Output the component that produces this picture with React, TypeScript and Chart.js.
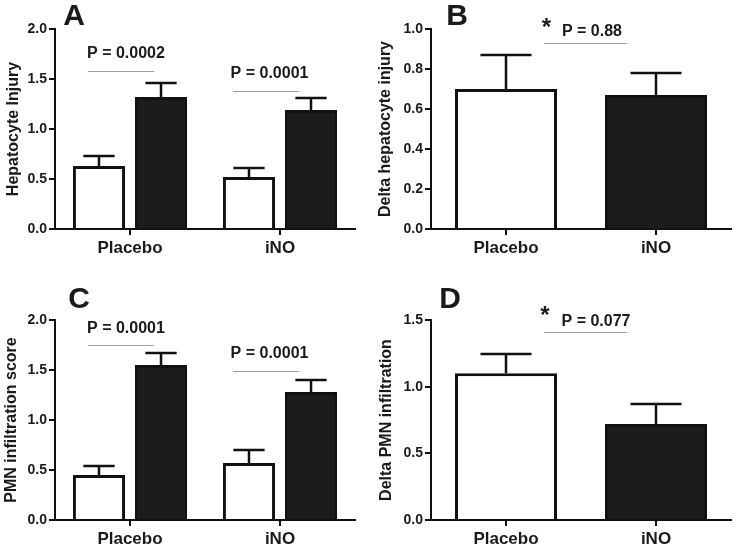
import React, { useEffect, useRef } from 'react';
import { Chart, registerables } from 'chart.js';

Chart.register(...registerables);

// ---------- data ----------
const categories = ['Placebo', 'iNO'];

// Panel A: hepatocyte injury (white = before, black = after)
const injuryWhite = [0.63, 0.52];
const injuryWhiteSem = [0.10, 0.09];
const injuryBlack = [1.32, 1.19];
const injuryBlackSem = [0.14, 0.12];
const injuryTicks = [0, 0.5, 1.0, 1.5, 2.0];

// Panel B: delta hepatocyte injury
const deltaInjury = [0.70, 0.67];
const deltaInjurySem = [0.17, 0.11];
const deltaInjuryTicks = [0, 0.2, 0.4, 0.6, 0.8, 1.0];

// Panel C: PMN infiltration score
const pmnWhite = [0.45, 0.57];
const pmnWhiteSem = [0.09, 0.13];
const pmnBlack = [1.55, 1.28];
const pmnBlackSem = [0.12, 0.12];
const pmnTicks = [0, 0.5, 1.0, 1.5, 2.0];

// Panel D: delta PMN infiltration
const deltaPmn = [1.10, 0.72];
const deltaPmnSem = [0.145, 0.15];
const deltaPmnTicks = [0, 0.5, 1.0, 1.5];

// p-value annotations
const pTextsA = ['P = 0.0002', 'P = 0.0001'];
const pTextsC = ['P = 0.0001', 'P = 0.0001'];
const pTextB = 'P = 0.88';
const pTextD = 'P = 0.077';

// ---------- styling ----------
const FONT = '"Liberation Sans", Arial, Helvetica, sans-serif';
const INK = '#1a1a1a';
const GRAY = '#a0a0a0';

type Ann = { x0: number; x1: number; ly: number; text: string; tx: number; ty: number; star?: { x: number; y: number } };

type Panel = {
  letter: string;
  letterPos: [number, number];
  left: number; top: number; w: number; h: number;
  area: { l: number; r: number; t: number; b: number };
  yTitle: string;
  yTitlePad: number;
  yMax: number;
  yTicks: number[];
  grouped: boolean;
  series: { values: number[]; sem: number[]; fill: string | string[] }[];
  capFrac: number;
  anns: Ann[];
};

const panels: Panel[] = [
  {
    letter: 'A', letterPos: [74, 16],
    left: 0, top: 0, w: 368, h: 275,
    area: { l: 55, r: 355, t: 29, b: 229 },
    yTitle: 'Hepatocyte Injury', yTitlePad: 4,
    yMax: 2.0, yTicks: injuryTicks, grouped: true,
    series: [
      { values: injuryWhite, sem: injuryWhiteSem, fill: '#ffffff' },
      { values: injuryBlack, sem: injuryBlackSem, fill: '#1c1c1c' },
    ],
    capFrac: 0.6,
    anns: [
      { x0: -0.28, x1: 0.16, ly: 1.58, text: pTextsA[0], tx: -0.027, ty: 1.75 },
      { x0: 0.687, x1: 1.127, ly: 1.38, text: pTextsA[1], tx: 0.93, ty: 1.55 },
    ],
  },
  {
    letter: 'B', letterPos: [457 - 368, 16],
    left: 368, top: 0, w: 368, h: 275,
    area: { l: 63, r: 363, t: 29, b: 229 },
    yTitle: 'Delta hepatocyte injury', yTitlePad: 8,
    yMax: 1.0, yTicks: deltaInjuryTicks, grouped: false,
    series: [{ values: deltaInjury, sem: deltaInjurySem, fill: ['#ffffff', '#1c1c1c'] }],
    capFrac: 0.5,
    anns: [
      { x0: 0.253, x1: 0.807, ly: 0.93, text: pTextB, tx: 0.573, ty: 0.985, star: { x: 0.27, y: 1.005 } },
    ],
  },
  {
    letter: 'C', letterPos: [79, 23.5],
    left: 0, top: 275, w: 368, h: 274,
    area: { l: 55, r: 355, t: 45, b: 245 },
    yTitle: 'PMN infiltration score', yTitlePad: 2,
    yMax: 2.0, yTicks: pmnTicks, grouped: true,
    series: [
      { values: pmnWhite, sem: pmnWhiteSem, fill: '#ffffff' },
      { values: pmnBlack, sem: pmnBlackSem, fill: '#1c1c1c' },
    ],
    capFrac: 0.6,
    anns: [
      { x0: -0.28, x1: 0.16, ly: 1.75, text: pTextsC[0], tx: -0.027, ty: 1.91 },
      { x0: 0.687, x1: 1.127, ly: 1.49, text: pTextsC[1], tx: 0.93, ty: 1.66 },
    ],
  },
  {
    letter: 'D', letterPos: [450 - 368, 23.5],
    left: 368, top: 275, w: 368, h: 274,
    area: { l: 63, r: 363, t: 45, b: 245 },
    yTitle: 'Delta PMN infiltration', yTitlePad: 9,
    yMax: 1.5, yTicks: deltaPmnTicks, grouped: false,
    series: [{ values: deltaPmn, sem: deltaPmnSem, fill: ['#ffffff', '#1c1c1c'] }],
    capFrac: 0.5,
    anns: [
      { x0: 0.253, x1: 0.807, ly: 1.41, text: pTextD, tx: 0.60, ty: 1.49, star: { x: 0.26, y: 1.525 } },
    ],
  },
];

function buildChart(canvas: HTMLCanvasElement, p: Panel) {
  const overlay = {
    id: 'overlay' + p.letter,
    afterDatasetsDraw(chart: any) {
      const ctx = chart.ctx as CanvasRenderingContext2D;
      const xs = chart.scales.x;
      const ys = chart.scales.y;
      ctx.save();
      // error bars
      p.series.forEach((s, di) => {
        const meta = chart.getDatasetMeta(di);
        meta.data.forEach((bar: any, j: number) => {
          const yTop = ys.getPixelForValue(s.values[j] + s.sem[j]);
          const cap = bar.width * p.capFrac;
          ctx.strokeStyle = '#111';
          ctx.lineWidth = 2.5;
          ctx.beginPath();
          ctx.moveTo(bar.x, bar.y);
          ctx.lineTo(bar.x, yTop);
          ctx.moveTo(bar.x - cap / 2, yTop);
          ctx.lineTo(bar.x + cap / 2, yTop);
          ctx.stroke();
        });
      });
      // annotations
      const c0 = xs.getPixelForValue(0);
      const ppc = xs.getPixelForValue(1) - c0;
      const px = (v: number) => c0 + v * ppc;
      p.anns.forEach((a) => {
        const ly = Math.round(ys.getPixelForValue(a.ly)) + 0.5;
        ctx.strokeStyle = GRAY;
        ctx.lineWidth = 1;
        ctx.beginPath();
        ctx.moveTo(px(a.x0), ly);
        ctx.lineTo(px(a.x1), ly);
        ctx.stroke();
        ctx.fillStyle = INK;
        ctx.font = `bold 16px ${FONT}`;
        ctx.textAlign = 'center';
        ctx.textBaseline = 'middle';
        ctx.fillText(a.text, px(a.tx), ys.getPixelForValue(a.ty));
        if (a.star) {
          ctx.font = `bold 24px ${FONT}`;
          ctx.fillText('*', px(a.star.x), ys.getPixelForValue(a.star.y));
        }
      });
      // panel letter
      ctx.fillStyle = INK;
      ctx.font = `bold 30px ${FONT}`;
      ctx.textAlign = 'center';
      ctx.textBaseline = 'middle';
      ctx.fillText(p.letter, p.letterPos[0], p.letterPos[1] + 1);
      ctx.restore();
    },
  };

  const datasets = p.series.map((s) => ({
    data: s.values,
    backgroundColor: s.fill,
    borderColor: '#111',
    borderWidth: 3,
    borderSkipped: 'start' as const,
    categoryPercentage: p.grouped ? 0.827 : 1,
    barPercentage: p.grouped ? 0.84 : 0.68,
  }));

  return new Chart(canvas, {
    type: 'bar',
    data: { labels: categories, datasets },
    plugins: [overlay],
    options: {
      responsive: false,
      animation: false,
      devicePixelRatio: 1,
      layout: {
        padding: { left: 0, top: p.area.t, right: p.w - p.area.r, bottom: 0 },
      },
      plugins: {
        legend: { display: false },
        tooltip: { enabled: false },
        title: { display: false },
      },
      scales: {
        x: {
          type: 'category',
          offset: true,
          afterFit: (scale: any) => { scale.height = p.h - p.area.b; },
          grid: {
            display: true,
            offset: false,
            drawOnChartArea: false,
            drawTicks: true,
            tickLength: 6,
            color: '#111',
            lineWidth: 2,
          },
          border: { display: true, color: '#111', width: 2 },
          ticks: {
            color: INK,
            padding: 3,
            font: { family: FONT, size: 17, weight: 'bold' },
            maxRotation: 0,
          },
        },
        y: {
          type: 'linear',
          min: 0,
          max: p.yMax,
          afterFit: (scale: any) => { scale.width = p.area.l; },
          afterBuildTicks: (scale: any) => { scale.ticks = p.yTicks.map((v) => ({ value: v })); },
          grid: {
            display: true,
            drawOnChartArea: false,
            drawTicks: true,
            tickLength: 6,
            color: '#111',
            lineWidth: 2,
          },
          border: { display: true, color: '#111', width: 2 },
          ticks: {
            color: INK,
            padding: 2,
            font: { family: FONT, size: 14, weight: 'bold' },
            callback: (v: any) => Number(v).toFixed(1),
          },
          title: {
            display: true,
            text: p.yTitle,
            color: INK,
            font: { family: FONT, size: 16, weight: 'bold' },
            padding: { top: p.yTitlePad, bottom: 0 },
          },
        },
      },
    } as any,
  });
}

function PanelChart({ p }: { p: Panel }) {
  const ref = useRef<HTMLCanvasElement | null>(null);
  useEffect(() => {
    if (!ref.current) return;
    const chart = buildChart(ref.current, p);
    return () => chart.destroy();
  }, [p]);
  return (
    <canvas
      ref={ref}
      width={p.w}
      height={p.h}
      style={{ position: 'absolute', left: p.left, top: p.top, width: p.w, height: p.h }}
    />
  );
}

export default function App() {
  return (
    <div style={{ position: 'absolute', left: 0, top: 0, width: 736, height: 549, background: '#fff', overflow: 'hidden' }}>
      {panels.map((p) => (
        <PanelChart key={p.letter} p={p} />
      ))}
    </div>
  );
}
